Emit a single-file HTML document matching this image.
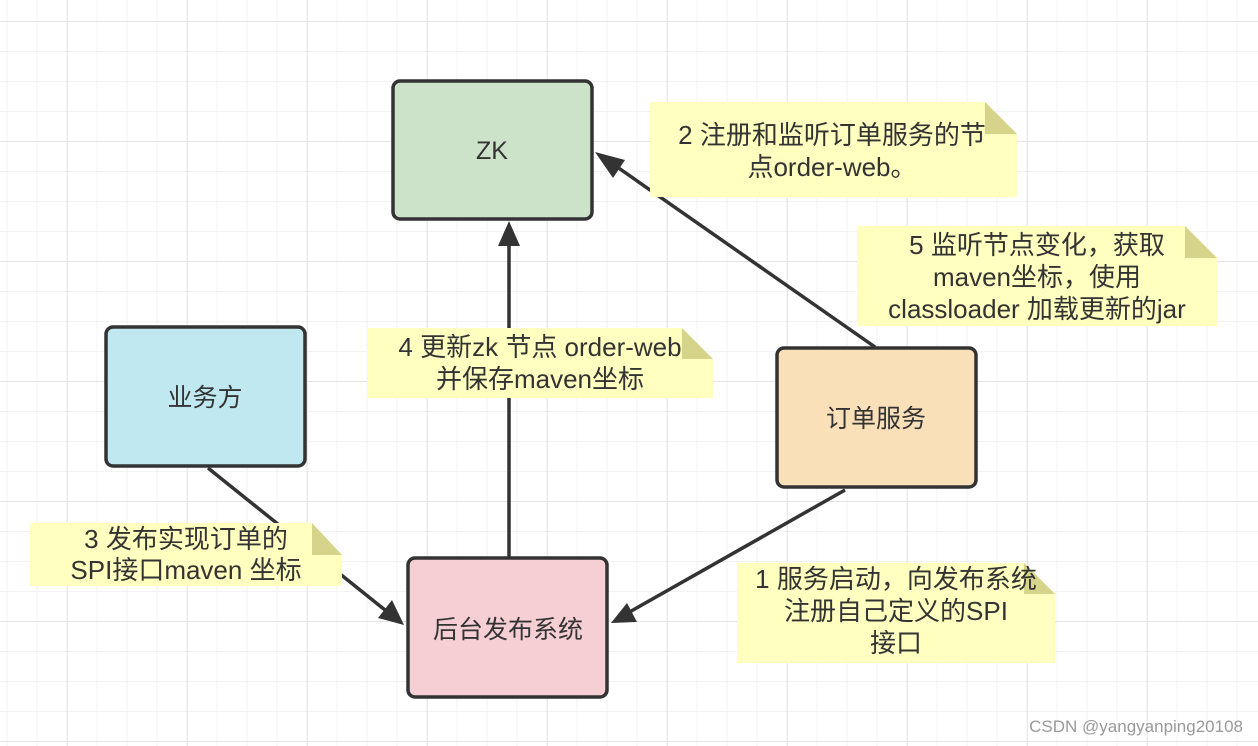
<!DOCTYPE html>
<html><head><meta charset="utf-8"><style>
html,body{margin:0;padding:0;background:#fff;}
svg{display:block;}
text{font-family:"Liberation Sans","Noto Sans CJK SC",sans-serif;fill:#333;}
</style></head><body>
<svg width="1258" height="746" viewBox="0 0 1258 746" xmlns="http://www.w3.org/2000/svg">
<defs>
<pattern id="g" x="6.7" y="21" width="30" height="30" patternUnits="userSpaceOnUse">
<path d="M0 0H30M0 0V30" stroke="#efefef" stroke-width="1.5" fill="none"/>
</pattern>
<pattern id="G" x="66.7" y="21" width="120" height="120" patternUnits="userSpaceOnUse">
<path d="M0 0H120M0 0V120" stroke="#e4e4e4" stroke-width="2" fill="none"/>
</pattern>
</defs>
<rect width="1258" height="746" fill="url(#g)"/>
<rect width="1258" height="746" fill="url(#G)"/>

<g stroke="#333" stroke-width="3.5" fill="none">
<line x1="875" y1="347" x2="610" y2="162"/>
<line x1="509" y1="557" x2="509" y2="240"/>
<line x1="208" y1="468" x2="390" y2="614"/>
<line x1="845" y1="490" x2="626" y2="614"/>
</g>
<g fill="#333">
<polygon points="595,152 625,160 613,178"/>
<polygon points="509,221 520,246 498,246"/>
<polygon points="404,625 378,618 392,600"/>
<polygon points="611,623 627,603 637,622"/>
</g>

<g>
<path d="M650 102H985L1017 134V197H650Z" fill="#ffffc0"/><path d="M985 102L1017 134H985Z" fill="#d6d48a"/>
<path d="M857 226H1185L1217 258V326H857Z" fill="#ffffc0"/><path d="M1185 226L1217 258H1185Z" fill="#d6d48a"/>
<path d="M367 328H682L713 359V398H367Z" fill="#ffffc0"/><path d="M682 328L713 359H682Z" fill="#d6d48a"/>
<path d="M30 523H312L342 555V586H30Z" fill="#ffffc0"/><path d="M312 523L342 555H312Z" fill="#d6d48a"/>
<path d="M737 563H1024L1055 594V663H737Z" fill="#ffffc0"/><path d="M1024 563L1055 594H1024Z" fill="#d6d48a"/>
</g>
<g font-size="26" text-anchor="middle">
<text x="832" y="144">2 注册和监听订单服务的节</text>
<text x="832" y="176">点order-web。</text>
<text x="1037" y="254">5 监听节点变化，获取</text>
<text x="1037" y="286">maven坐标，使用</text>
<text x="1037" y="318">classloader 加载更新的jar</text>
<text x="540" y="356">4 更新zk 节点 order-web</text>
<text x="540" y="388">并保存maven坐标</text>
<text x="186" y="548">3 发布实现订单的</text>
<text x="186" y="579">SPI接口maven 坐标</text>
<text x="896" y="588">1 服务启动，向发布系统</text>
<text x="896" y="620">注册自己定义的SPI</text>
<text x="896" y="652">接口</text>
</g>

<g stroke="#333" stroke-width="3.5">
<rect x="393" y="81" width="199" height="138" rx="7" fill="#cde3c9"/>
<rect x="106" y="327" width="199" height="139" rx="7" fill="#bfe8f0"/>
<rect x="777" y="348" width="199" height="139" rx="7" fill="#fae0b8"/>
<rect x="408" y="558" width="199" height="139" rx="7" fill="#f6cfd5"/>
</g>
<g font-size="25" text-anchor="middle">
<text x="492" y="159">ZK</text>
<text x="205" y="406">业务方</text>
<text x="876" y="427">订单服务</text>
<text x="508" y="638">后台发布系统</text>
</g>
<text x="1243" y="732" font-size="17" text-anchor="end" style="fill:#999">CSDN @yangyanping20108</text>
</svg>
</body></html>
